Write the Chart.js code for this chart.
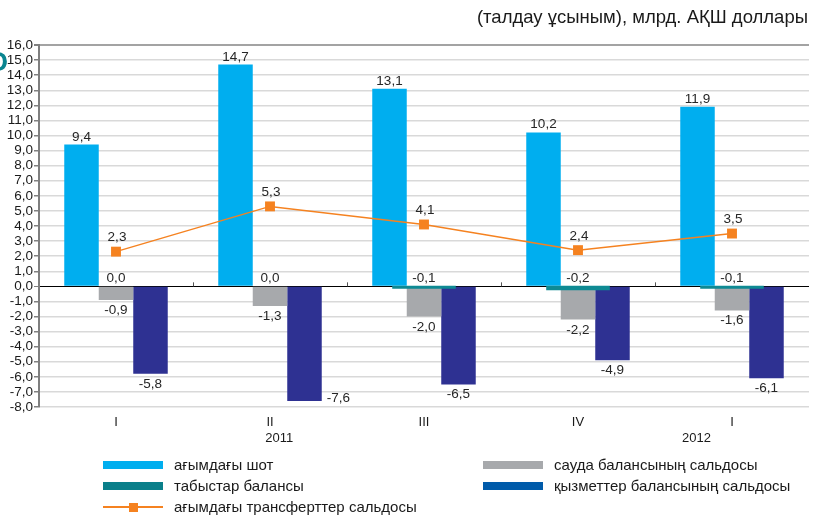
<!DOCTYPE html>
<html>
<head>
<meta charset="utf-8">
<script src="https://cdn.jsdelivr.net/npm/chart.js@4"></script>
<style>
  html, body { margin: 0; padding: 0; background: #fff; }
  #wrap { position: relative; width: 816px; height: 516px; overflow: hidden; font-family: "Liberation Sans", Arial, sans-serif; color: #1a1a1a; }
  #c { position: absolute; left: 0; top: 0; }
  #unit { position: absolute; right: 8px; top: 6px; font-size: 18.5px; white-space: nowrap; }
  #mark { position: absolute; left: -13px; top: 47px; font-size: 27px; font-weight: bold; color: #0a8590; }
  .lg { position: absolute; font-size: 15px; white-space: nowrap; line-height: 18px; }
  .sw { position: absolute; height: 8px; width: 60px; }
  .ln { position: absolute; height: 2px; width: 60px; background: #f58220; }
  .mk { position: absolute; width: 9px; height: 9px; background: #f58220; }
</style>
</head>
<body>
<div id="wrap">
  <canvas id="c" width="816" height="516"></canvas>
  <div id="unit">(талдау ұсыным), млрд. АҚШ доллары</div>
  <div id="mark">О</div>
  <div id="legend"></div>
</div>
<script>
// Quarters and their years
const categories = ['I', 'II', 'III', 'IV', 'I'];
const years = ['2011', '2012'];

// Balance of payments components, bn USD
const currentAccount = [9.4, 14.7, 13.1, 10.2, 11.9];
const tradeBalance = [-0.9, -1.3, -2.0, -2.2, -1.6];
const servicesBalance = [-5.8, -7.6, -6.5, -4.9, -6.1];
const incomeBalance = [0.0, 0.0, -0.1, -0.2, -0.1];
const transfersBalance = [2.3, 5.3, 4.1, 2.4, 3.5];

const seriesNames = [
  'ағымдағы шот',
  'табыстар балансы',
  'ағымдағы трансферттер сальдосы',
  'сауда балансының сальдосы',
  'қызметтер балансының сальдосы'
];

const C_CUR = '#00aeef', C_TRADE = '#a7a9ac', C_SERV = '#2e3192', C_INC = '#0e8a93', C_TR = '#f58220';
const FONT = '"Liberation Sans", Arial, sans-serif';
const fmt = v => v.toFixed(1).replace('.', ',').replace('-0,0', '0,0');

// value labels for bars and the line
const valueLabels = {
  id: 'valueLabels',
  afterDatasetsDraw(chart) {
    const ctx = chart.ctx;
    const area = chart.chartArea;
    ctx.save();
    ctx.font = '13.5px ' + FONT;
    ctx.fillStyle = '#262626';
    ctx.textBaseline = 'alphabetic';
    chart.data.datasets.forEach((ds, di) => {
      const meta = chart.getDatasetMeta(di);
      meta.data.forEach((el, i) => {
        const v = ds.data[i];
        const t = fmt(v);
        const kind = ds.labelKind;
        ctx.textAlign = 'center';
        if (kind === 'above') {
          ctx.fillText(t, el.x, el.y - 4);
        } else if (kind === 'zero') {
          ctx.fillText(t, el.x, Math.min(el.y, el.base) - 4.5);
        } else if (kind === 'point') {
          ctx.fillText(t, el.x + 1, el.y - 10.5);
        } else if (kind === 'below') {
          if (el.y + 15 > area.bottom) {
            ctx.textAlign = 'left';
            ctx.fillText(t, el.x + el.width / 2 + 5, el.y + 1.5);
          } else {
            ctx.fillText(t, el.x, el.y + 14);
          }
        }
      });
    });
    ctx.restore();
  }
};

// category boundary ticks on the zero line and the year captions
const axisExtras = {
  id: 'axisExtras',
  beforeDatasetsDraw(chart) {
    const ctx = chart.ctx;
    const x = chart.scales.x, y = chart.scales.y;
    const z = y.getPixelForValue(0);
    const n = categories.length;
    const w = (x.right - x.left) / n;
    ctx.save();
    ctx.strokeStyle = '#555';
    ctx.lineWidth = 1;
    for (let i = 1; i < n; i++) {
      const px = Math.round(x.left + i * w) + 0.5;
      ctx.beginPath();
      ctx.moveTo(px, z - 4);
      ctx.lineTo(px, z);
      ctx.stroke();
    }
    ctx.restore();
  },
  afterDraw(chart) {
    const ctx = chart.ctx;
    const x = chart.scales.x;
    const n = categories.length;
    ctx.save();
    ctx.font = '13px ' + FONT;
    ctx.fillStyle = '#1a1a1a';
    ctx.textAlign = 'center';
    ctx.textBaseline = 'middle';
    // 2011 spans the first four quarters, 2012 the last one
    const w = (x.right - x.left) / n;
    ctx.fillText(years[0], x.left + 1.56 * w, 438);
    ctx.fillText(years[1], x.left + 4.27 * w, 438);
    ctx.restore();
  }
};

new Chart(document.getElementById('c'), {
  data: {
    labels: categories,
    datasets: [
      { type: 'line', label: seriesNames[2], data: transfersBalance, borderColor: C_TR, backgroundColor: C_TR,
        borderWidth: 1.5, pointStyle: 'rect', pointRadius: 7, pointBorderWidth: 0, order: -1, labelKind: 'point' },
      { type: 'bar', label: seriesNames[0], data: currentAccount, backgroundColor: C_CUR,
        categoryPercentage: 0.672, barPercentage: 1.0, order: 2, labelKind: 'above' },
      { type: 'bar', label: seriesNames[3], data: tradeBalance, backgroundColor: C_TRADE,
        categoryPercentage: 0.672, barPercentage: 1.0, order: 2, labelKind: 'below' },
      { type: 'bar', label: seriesNames[4], data: servicesBalance, backgroundColor: C_SERV,
        categoryPercentage: 0.672, barPercentage: 1.0, order: 2, labelKind: 'below' },
      // income balance sits centred across the group, not as a slot of its own
      { type: 'bar', label: seriesNames[1], data: incomeBalance, backgroundColor: C_INC, grouped: false,
        categoryPercentage: 0.40, barPercentage: 1.0, order: 0, labelKind: 'zero',
        inflateAmount: c => (c.raw === 0 ? 0 : 1) }
    ]
  },
  options: {
    responsive: false,
    devicePixelRatio: 1,
    animation: false,
    layout: { padding: { top: 45, left: 0, right: 4, bottom: 79 } },
    plugins: { legend: { display: false }, tooltip: { enabled: false } },
    scales: {
      x: {
        type: 'category',
        offset: true,
        grid: { display: false, drawTicks: false },
        border: { display: false },
        ticks: { color: '#1a1a1a', font: { family: FONT, size: 13 }, padding: 8 },
        afterFit: s => { s.height = 30; }
      },
      y: {
        min: -8,
        max: 16,
        afterFit: s => { s.width = 39; },
        border: { color: '#7f7f7f', width: 2 },
        grid: {
          tickLength: 5,
          tickColor: '#808080',
          color: c => (c.tick && c.tick.value === 0 ? '#000' : (c.tick && c.tick.value === 16 ? '#a3a3a3' : '#d9d9d9')),
          lineWidth: c => (c.tick && c.tick.value === 0 ? 1 : (c.tick && c.tick.value === 16 ? 2 : 1.5))
        },
        ticks: {
          stepSize: 1,
          autoSkip: false,
          padding: 1,
          color: '#1a1a1a',
          font: { family: FONT, size: 13.5 },
          callback: v => fmt(v)
        }
      }
    }
  },
  plugins: [valueLabels, axisExtras]
});

// legend in two columns
const legendItems = [
  { name: seriesNames[0], kind: 'bar', color: C_CUR, x: 103, y: 465 },
  { name: seriesNames[1], kind: 'bar', color: '#0a7f8a', x: 103, y: 486 },
  { name: seriesNames[2], kind: 'line', color: C_TR, x: 103, y: 507 },
  { name: seriesNames[3], kind: 'bar', color: C_TRADE, x: 483, y: 465 },
  { name: seriesNames[4], kind: 'bar', color: '#005baa', x: 483, y: 486 }
];
const lg = document.getElementById('legend');
legendItems.forEach(it => {
  if (it.kind === 'bar') {
    const s = document.createElement('div');
    s.className = 'sw';
    s.style.left = it.x + 'px';
    s.style.top = (it.y - 4) + 'px';
    s.style.background = it.color;
    lg.appendChild(s);
  } else {
    const l = document.createElement('div');
    l.className = 'ln';
    l.style.left = it.x + 'px';
    l.style.top = (it.y - 1) + 'px';
    lg.appendChild(l);
    const m = document.createElement('div');
    m.className = 'mk';
    m.style.left = (it.x + 26) + 'px';
    m.style.top = (it.y - 4.5) + 'px';
    lg.appendChild(m);
  }
  const t = document.createElement('div');
  t.className = 'lg';
  t.textContent = it.name;
  t.style.left = (it.x + 71) + 'px';
  t.style.top = (it.y - 9) + 'px';
  lg.appendChild(t);
});
</script>
</body>
</html>
